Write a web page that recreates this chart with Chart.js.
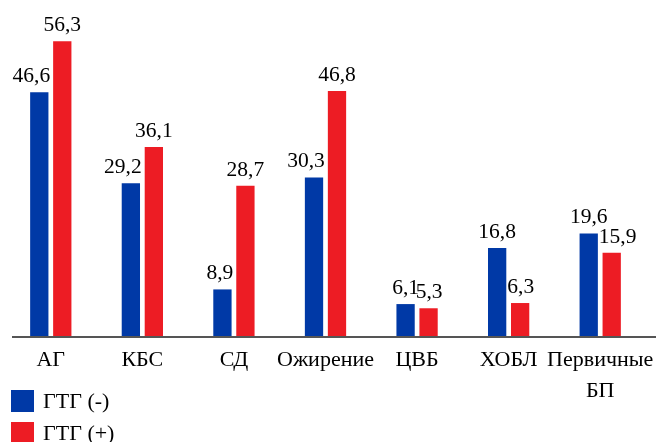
<!DOCTYPE html>
<html>
<head>
<meta charset="utf-8">
<script src="https://cdn.jsdelivr.net/npm/chart.js@4/dist/chart.umd.min.js"></script>
<style>
  html, body { margin: 0; padding: 0; background: #fff; }
  #wrap { position: relative; width: 656px; height: 442px; overflow: hidden; }
  canvas { position: absolute; left: 0; top: 0; }
  .lg { position: absolute; left: 11px; display: flex; align-items: center;
        font-family: 'Liberation Serif', 'Times New Roman', serif; font-size: 22px; color: #000; }
  .lg span.box { display: inline-block; width: 23px; height: 22px; margin-right: 9px; }
</style>
</head>
<body>
<div id="wrap">
  <canvas id="c" width="656" height="442"></canvas>
  <div class="lg" id="lg0" style="top:388px"><span class="box"></span><span class="t"></span></div>
  <div class="lg" id="lg1" style="top:420px"><span class="box"></span><span class="t"></span></div>
</div>
<script>
// Disease categories
const categories = ['АГ', 'КБС', 'СД', 'Ожирение', 'ЦВБ', 'ХОБЛ', ['Первичные', 'БП']];
// Series values, %
const gtgNegative = [46.6, 29.2, 8.9, 30.3, 6.1, 16.8, 19.6];
const gtgPositive = [56.3, 36.1, 28.7, 46.8, 5.3, 6.3, 15.9];
const seriesNames = ['ГТГ (-)', 'ГТГ (+)'];
const seriesColors = ['#0039a6', '#ed1c24'];

const serif = "'Liberation Serif', 'Times New Roman', serif";

// Legend below the plot
seriesNames.forEach((name, i) => {
  const el = document.getElementById('lg' + i);
  el.querySelector('.box').style.background = seriesColors[i];
  el.querySelector('.t').textContent = name;
});

// Baseline under the bars
const baselinePlugin = {
  id: 'baseline',
  afterDatasetsDraw(chart) {
    const { ctx } = chart;
    const y = chart.scales.y.getPixelForValue(0);
    ctx.save();
    ctx.strokeStyle = '#555555';
    ctx.lineWidth = 2;
    ctx.beginPath();
    ctx.moveTo(12, y + 1);
    ctx.lineTo(chart.width, y + 1);
    ctx.stroke();
    ctx.restore();
  }
};

// Value labels above bars, nudged aside when the neighbouring bar is taller
const valueLabels = {
  id: 'valueLabels',
  afterDatasetsDraw(chart) {
    const { ctx } = chart;
    const m0 = chart.getDatasetMeta(0), m1 = chart.getDatasetMeta(1);
    ctx.save();
    ctx.font = '21.5px ' + serif;
    ctx.fillStyle = '#000';
    ctx.textAlign = 'center';
    ctx.textBaseline = 'alphabetic';
    const fmt = v => v.toFixed(1).replace('.', ',');
    m0.data.forEach((b0, i) => {
      const b1 = m1.data[i];
      const v0 = chart.data.datasets[0].data[i], v1 = chart.data.datasets[1].data[i];
      const t0 = fmt(v0), t1 = fmt(v1);
      const w0 = ctx.measureText(t0).width, w1 = ctx.measureText(t1).width;
      let x0 = b0.x, x1 = b1.x;
      const left1 = b1.x - b1.width / 2, right0 = b0.x + b0.width / 2;
      if (v1 > v0 && x0 + w0 / 2 > left1 - 3) x0 = left1 - 3 - w0 / 2;
      if (v0 > v1 && x1 - w1 / 2 < right0 + 1) x1 = right0 + 1 + w1 / 2;
      ctx.fillText(t0, x0, b0.y - 10);
      ctx.fillText(t1, x1, b1.y - 10);
    });
    ctx.restore();
  }
};

new Chart(document.getElementById('c'), {
  type: 'bar',
  data: {
    labels: categories,
    datasets: [
      { label: seriesNames[0], data: gtgNegative, backgroundColor: seriesColors[0] },
      { label: seriesNames[1], data: gtgPositive, backgroundColor: seriesColors[1] }
    ]
  },
  options: {
    responsive: false,
    devicePixelRatio: 1,
    animation: false,
    categoryPercentage: 0.502,
    barPercentage: 0.796,
    layout: { padding: { top: 22, left: 5, right: 10, bottom: 0 } },
    plugins: { legend: { display: false }, tooltip: { enabled: false } },
    scales: {
      x: {
        grid: { display: false },
        border: { display: false },
        ticks: {
          color: '#000',
          padding: 1,
          maxRotation: 0,
          autoSkip: false,
          font: { family: serif, size: 22, lineHeight: 1.4 }
        },
        afterFit(scale) { scale.height = 106; }
      },
      y: { display: false, min: 0, max: 60 }
    }
  },
  plugins: [baselinePlugin, valueLabels]
});
</script>
</body>
</html>
